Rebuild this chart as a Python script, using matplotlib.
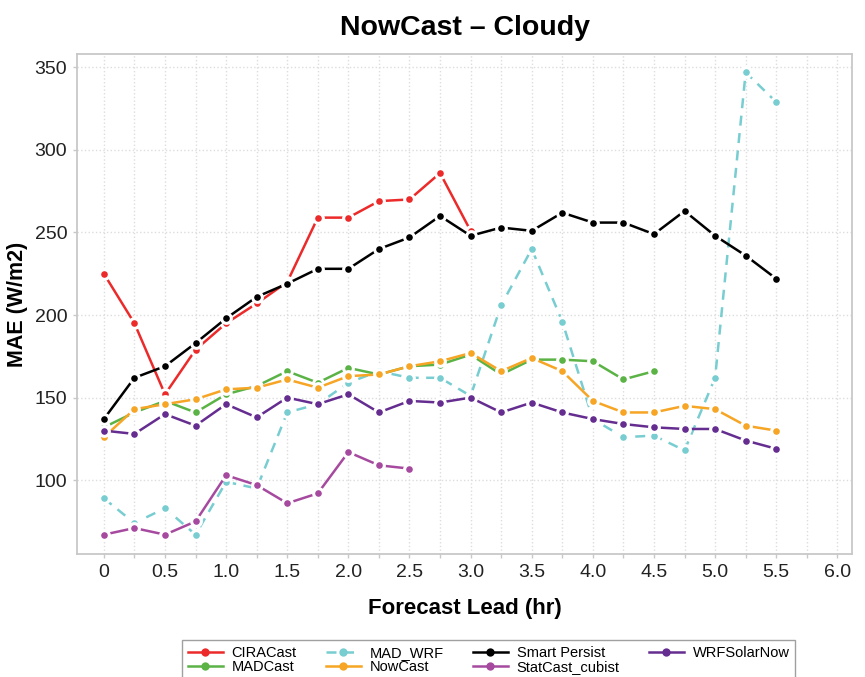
import numpy as np
import matplotlib
matplotlib.use("Agg")
import matplotlib.pyplot as plt
from matplotlib.legend_handler import HandlerLine2D

plt.rcParams['font.family'] = ['Liberation Sans', 'DejaVu Sans']

lead = [0, 0.25, 0.5, 0.75, 1.0, 1.25, 1.5, 1.75, 2.0, 2.25, 2.5, 2.75,
        3.0, 3.25, 3.5, 3.75, 4.0, 4.25, 4.5, 4.75, 5.0, 5.25, 5.5]

ciracast = [225, 195, 152, 179, 195, 207, 220, 259, 259, 269, 270, 286, 251]
madcast = [132, 141, 148, 141, 152, 157, 166, 159, 168, 164, 169, 170,
           176, 164, 173, 173, 172, 161, 166]
mad_wrf = [89, 74, 83, 67, 99, 95, 141, 146, 159, 166, 162, 162,
           151, 206, 240, 196, 137, 126, 127, 118, 162, 347, 329]
nowcast = [126, 143, 146, 149, 155, 156, 161, 156, 163, 164, 169, 172,
           177, 166, 174, 166, 148, 141, 141, 145, 143, 133, 130]
smart_persist = [137, 162, 169, 183, 198, 211, 219, 228, 228, 240, 247, 260,
                 248, 253, 251, 262, 256, 256, 249, 263, 248, 236, 222]
statcast = [67, 71, 67, 75, 103, 97, 86, 92, 117, 109, 107]
wrfsolarnow = [130, 128, 140, 133, 146, 138, 150, 146, 152, 141, 148, 147,
               150, 141, 147, 141, 137, 134, 132, 131, 131, 124, 119]

series = [
    ("CIRACast", ciracast, "#EC2A2A", "-"),
    ("MADCast", madcast, "#5BB346", "-"),
    ("MAD_WRF", mad_wrf, "#78CDD1", (0, (4, 3))),
    ("NowCast", nowcast, "#F6A524", "-"),
    ("Smart Persist", smart_persist, "#000000", "-"),
    ("StatCast_cubist", statcast, "#A64A9F", "-"),
    ("WRFSolarNow", wrfsolarnow, "#652D90", "-"),
]


class EndMarker(HandlerLine2D):
    # line with the dot only at its right end, like the original legend
    def get_xdata(self, legend, xdescent, ydescent, width, height, fontsize):
        xdata = np.array([-xdescent, -xdescent + width])
        return xdata, np.array([-xdescent + width])


fig = plt.figure(figsize=(8.65, 6.77), dpi=100)
ax = fig.add_axes([0.089, 0.181, 0.896, 0.739])

for name, vals, col, ls in series:
    ax.plot(lead[:len(vals)], vals, color=col, linestyle=ls, lw=1.8,
            marker='o', markersize=7, markerfacecolor=col,
            markeredgecolor='white', markeredgewidth=2.2, label=name)

ax.set_xlim(-0.22, 6.12)
ax.set_ylim(55, 358)
ax.set_xticks(np.arange(0, 6.01, 0.5))
ax.set_xticklabels(['0'] + [f"{v:.1f}" for v in np.arange(0.5, 6.01, 0.5)])
ax.set_xticks(np.arange(0, 6.01, 0.25), minor=True)
ax.set_yticks([100, 150, 200, 250, 300, 350])

ax.grid(True, which='both', axis='x', color='#dddddd', linestyle=':', lw=1.0)
ax.grid(True, which='major', axis='y', color='#dddddd', linestyle=':', lw=1.0)
ax.set_axisbelow(True)

for s in ax.spines.values():
    s.set_color('#c8c8c8')
    s.set_linewidth(1.3)
ax.tick_params(which='both', color='#c8c8c8', length=3, width=1,
               labelsize=14, labelcolor='#222222', pad=4)

ax.set_title("NowCast \u2013 Cloudy", fontsize=20.5, fontweight='bold', pad=14)
ax.set_xlabel("Forecast Lead (hr)", fontsize=16, fontweight='bold', labelpad=12)
ax.set_ylabel("MAE (W/m2)", fontsize=15.5, fontweight='bold', labelpad=5)

handles, labels = ax.get_legend_handles_labels()
leg = fig.legend(handles, labels, loc='upper center', ncol=4,
                 bbox_to_anchor=(0.565, 0.054), borderaxespad=0, fontsize=10.5,
                 handler_map={h: EndMarker() for h in handles},
                 frameon=True, fancybox=False, edgecolor='#888888',
                 handlelength=2.4, handletextpad=0.6, columnspacing=2.0,
                 labelspacing=0.0, borderpad=0.4)
leg.get_frame().set_linewidth(1.0)
for h in leg.legend_handles:
    h.set_markersize(6)
    h.set_markeredgewidth(0)

fig.savefig("out.png", dpi=100)
